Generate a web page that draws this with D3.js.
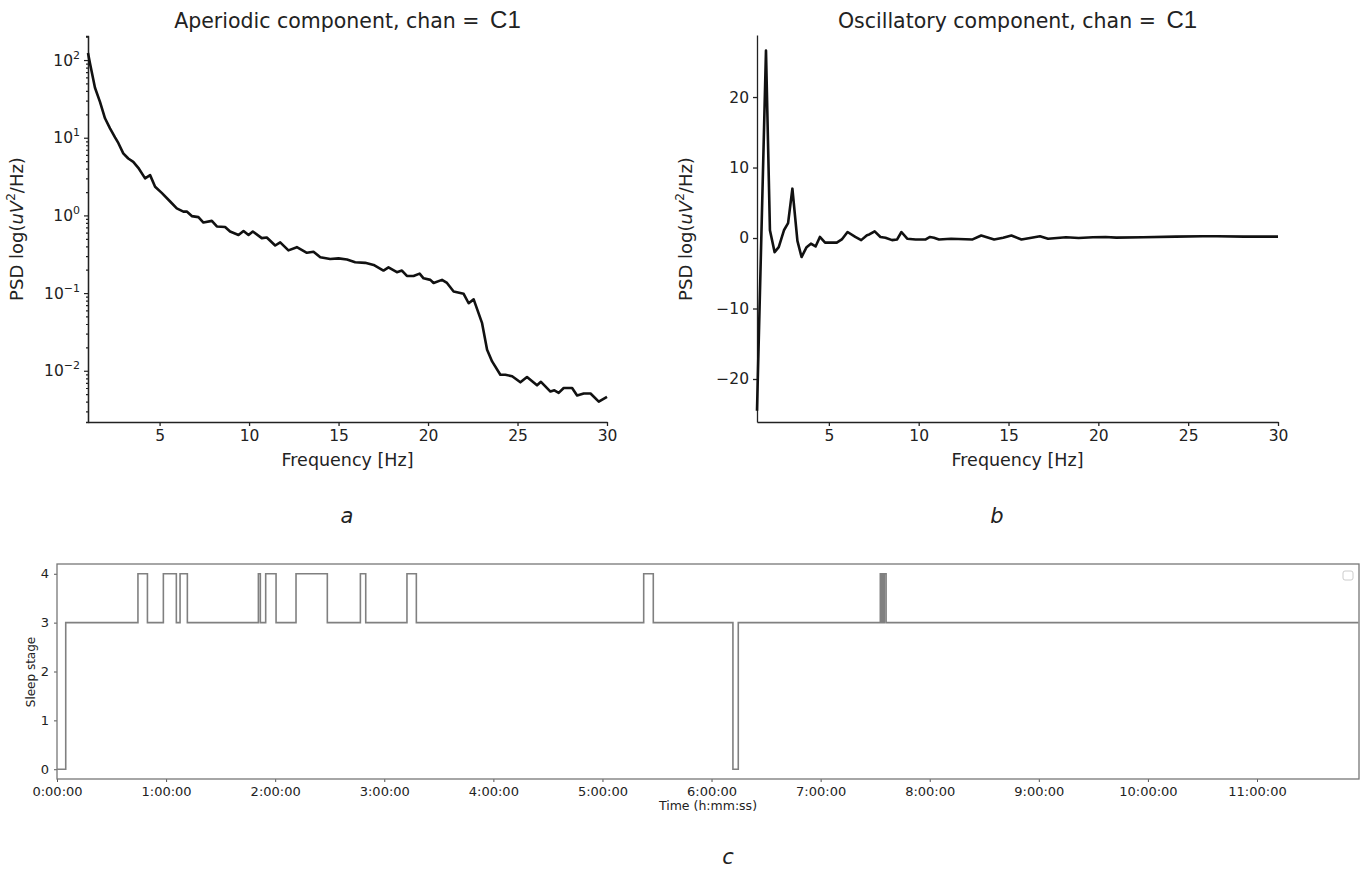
<!DOCTYPE html>
<html>
<head>
<meta charset="utf-8">
<script src="https://cdn.jsdelivr.net/npm/d3@7"></script>
<style>
body { margin: 0; background: #fff; }
text { font-family: "DejaVu Sans", sans-serif; fill: #222; }
</style>
</head>
<body>
<script>
// panel a : aperiodic component (uV^2/Hz)
var apFreq = [1.0, 1.11, 1.39, 1.67, 1.95, 2.23, 2.51, 2.70, 2.97, 3.25, 3.53, 3.81, 4.19, 4.47, 4.75,
    5.12, 5.59, 5.96, 6.33, 6.52, 6.80, 7.17, 7.45, 7.92, 8.20, 8.66, 8.94, 9.41, 9.69, 9.97,
    10.21, 10.71, 10.99, 11.46, 11.74, 12.20, 12.67, 13.23, 13.60, 13.98, 14.53, 15.00, 15.47, 15.93,
    16.49, 16.96, 17.51, 17.79, 18.26, 18.54, 18.82, 19.19, 19.53, 19.75, 20.13, 20.31, 20.78, 21.06,
    21.43, 21.99, 22.27, 22.55, 23.02, 23.30, 23.58, 24.04, 24.32, 24.70, 25.16, 25.53, 26.09, 26.31,
    26.84, 27.06, 27.30, 27.58, 28.05, 28.33, 28.70, 29.08, 29.54, 30.0];
var apPower = [123, 91, 44, 29, 17.8, 13.2, 10.1, 8.5, 6.3, 5.4, 4.9, 4.1, 3.0, 3.3, 2.34,
    1.95, 1.51, 1.23, 1.12, 1.12, 0.98, 0.95, 0.81, 0.85, 0.72, 0.71, 0.62, 0.56, 0.63, 0.56,
    0.62, 0.51, 0.52, 0.41, 0.45, 0.355, 0.39, 0.33, 0.34, 0.29, 0.275, 0.28, 0.27, 0.25,
    0.245, 0.23, 0.195, 0.214, 0.186, 0.195, 0.166, 0.166, 0.178, 0.155, 0.148, 0.135, 0.148, 0.135,
    0.105, 0.098, 0.074, 0.083, 0.041, 0.0186, 0.0132, 0.0089, 0.0089, 0.0085, 0.0071, 0.0083, 0.0065, 0.0072,
    0.0054, 0.0056, 0.0052, 0.0060, 0.0060, 0.0048, 0.0051, 0.0051, 0.0040, 0.0046];

// panel b : oscillatory component
var oscFreq = [1.0, 1.5, 1.72, 1.98, 2.21, 2.5, 2.73, 2.97, 3.25, 3.48, 3.76, 4.0, 4.26, 4.5, 4.79,
    5.44, 5.72, 6.04, 6.47, 6.8, 7.12, 7.25, 7.55, 7.87, 8.15, 8.52, 8.8, 9.04, 9.36, 9.83,
    10.39, 10.63, 10.85, 11.13, 11.8, 13.0, 13.48, 14.2, 14.7, 15.16, 15.72, 16.28, 16.75, 17.2,
    18.2, 18.9, 19.7, 20.4, 21.0, 22.5, 24.3, 25.8, 26.6, 28.1, 30.0];
var oscPower = [-24.5, 26.6, 1.1, -2.0, -1.3, 1.1, 2.1, 7.0, -0.4, -2.7, -1.3, -0.8, -1.2, 0.15, -0.65,
    -0.65, -0.2, 0.85, 0.15, -0.3, 0.4, 0.5, 0.95, 0.15, 0.05, -0.3, -0.2, 0.85, -0.1, -0.2,
    -0.2, 0.15, 0.05, -0.2, -0.1, -0.2, 0.35, -0.2, 0.05, 0.35, -0.2, 0.05, 0.25, -0.1,
    0.1, 0, 0.1, 0.15, 0.05, 0.1, 0.2, 0.25, 0.25, 0.2, 0.2];

// panel c : hypnogram (time in hours, stage)
var hypTime = [0, 0.08, 0.742, 0.829, 0.975, 1.094, 1.128, 1.195, 1.846, 1.864, 1.913, 2.008, 2.191, 2.478,
    2.781, 2.830, 3.208, 3.294, 5.378, 5.466, 6.196, 6.245, 7.547, 7.556, 7.565, 7.575, 7.584, 7.600, 11.93];
var hypStage = [0, 3, 4, 3, 4, 3, 4, 3, 4, 3, 4, 3, 4, 3,
    4, 3, 4, 3, 4, 3, 0, 3, 4, 3, 4, 3, 4, 3, 3];

var freqTicks = [5, 10, 15, 20, 25, 30];
var logTicks = [1e-2, 1e-1, 1e0, 1e1, 1e2];
var oscTicks = [-20, -10, 0, 10, 20];
var stageTicks = [0, 1, 2, 3, 4];
var hourTicks = [0, 1, 2, 3, 4, 5, 6, 7, 8, 9, 10, 11];

var svg = d3.select("body")
    .append("svg")
    .attr("width", 1368)
    .attr("height", 871);

//PSD panels
function drawPsd(left, right, yScale, title, xs, ys) {
    var x = d3.scaleLinear().domain([1, 30]).range([left, right]);
    var g = svg.append("g");
    var xAxis = g.append("g")
        .attr("transform", "translate(0," + 422 + ")")
        .call(d3.axisBottom(x).tickValues(freqTicks).tickSize(4).tickSizeOuter(0).tickPadding(4));
    xAxis.selectAll("text").attr("font-size", "15.5px").attr("font-family", "DejaVu Sans").attr("fill", "#222");
    var yAxis = g.append("g")
        .attr("transform", "translate(" + left + ",0)");
    g.selectAll(".domain, .tick line").attr("stroke", "#222").attr("stroke-width", 1.3);

    var line = d3.line()
        .x(function (d) { return x(d[0]); })
        .y(function (d) { return yScale(d[1]); });
    g.append("path")
        .attr("class", "psd")
        .datum(d3.zip(xs, ys))
        .attr("d", line)
        .attr("fill", "none")
        .attr("stroke", "#111")
        .attr("stroke-width", 2.6)
        .attr("stroke-linejoin", "round");

    var t = g.append("text")
        .attr("x", (left + right) / 2)
        .attr("y", 28)
        .attr("text-anchor", "middle")
        .attr("font-size", "20.5px");
    t.append("tspan").text(title + ", chan = ");
    t.append("tspan").attr("font-family", "Liberation Sans").attr("font-size", "24px").attr("dx", 4).text("C1");

    g.append("text")
        .attr("x", (left + right) / 2)
        .attr("y", 466)
        .attr("text-anchor", "middle")
        .attr("font-size", "17.5px")
        .text("Frequency [Hz]");

    var yl = g.append("text")
        .attr("transform", "translate(" + (left - 65) + ",229) rotate(-90)")
        .attr("text-anchor", "middle")
        .attr("font-size", "18px");
    yl.append("tspan").text("PSD log(");
    yl.append("tspan").attr("font-style", "italic").text("uV");
    yl.append("tspan").attr("font-size", "12px").attr("dy", -8).text("2");
    yl.append("tspan").attr("dy", 8).text("/Hz)");
    return { g: g, yAxis: yAxis };
}

//a: log axis
var yA = d3.scaleLog().domain([0.00219, 204]).range([422, 36]);
var pa = drawPsd(88, 607, yA, "Aperiodic component", apFreq, apPower);
var minorTicks = [];
[-3, -2, -1, 0, 1, 2].forEach(function (e) {
    for (var k = 2; k <= 9; k++) {
        var v = k * Math.pow(10, e);
        if (v > 0.00219 && v < 204) minorTicks.push(v);
    }
});
pa.yAxis.append("g").call(d3.axisLeft(yA).tickValues(minorTicks).tickSize(2).tickFormat(""));
pa.yAxis.append("g").call(d3.axisLeft(yA).tickValues(logTicks).tickSize(4).tickSizeOuter(0).tickPadding(4)
    .tickFormat(""));
pa.yAxis.selectAll(".tick").filter(function (d) { return logTicks.indexOf(d) >= 0; })
    .append("text")
    .attr("x", -8)
    .attr("dy", "0.32em")
    .attr("text-anchor", "end")
    .attr("font-size", "15.5px")
    .each(function (d) {
        var e = Math.round(Math.log10(d));
        var s = d3.select(this);
        s.append("tspan").text("10");
        s.append("tspan").attr("font-size", "11px").attr("dy", -7).text(e < 0 ? "\u2212" + (-e) : e);
    });
pa.yAxis.selectAll(".domain, .tick line").attr("stroke", "#222").attr("stroke-width", 1.2);
pa.yAxis.selectAll(".domain").attr("stroke-width", 1.3);
pa.g.select(".psd").raise();

//b: linear axis
var yB = d3.scaleLinear().domain([-26.1, 28.8]).range([422, 35]);
var pb = drawPsd(757, 1278, yB, "Oscillatory component", oscFreq, oscPower);
pb.yAxis.call(d3.axisLeft(yB).tickValues(oscTicks).tickSize(4).tickSizeOuter(0).tickPadding(4)
    .tickFormat(function (d) { return d < 0 ? "\u2212" + (-d) : d; }));
pb.yAxis.selectAll("text").attr("font-size", "15.5px").attr("font-family", "DejaVu Sans").attr("fill", "#222");
pb.yAxis.selectAll(".domain, .tick line").attr("stroke", "#222").attr("stroke-width", 1.3);
pb.g.select(".psd").raise();

//c: hypnogram
var hx = d3.scaleLinear().domain([0, 11.935]).range([57, 1359]);
var hy = d3.scaleLinear().domain([-0.2, 4.2]).range([779, 564]);
var gc = svg.append("g").attr("font-family", "Liberation Sans");
gc.append("g")
    .attr("transform", "translate(0,779)")
    .call(d3.axisBottom(hx).tickValues(hourTicks).tickSize(3).tickSizeOuter(0).tickPadding(5)
        .tickFormat(function (d) { return d + ":00:00"; }));
gc.append("g")
    .attr("transform", "translate(57,0)")
    .call(d3.axisLeft(hy).tickValues(stageTicks).tickSize(3).tickSizeOuter(0).tickPadding(5)
        .tickFormat(d3.format("d")));
gc.selectAll(".tick text").attr("font-size", "13px").attr("font-family", "Liberation Sans").attr("fill", "#222");
gc.selectAll(".tick line").attr("stroke", "#555");
gc.selectAll(".domain").remove();
gc.append("rect")
    .attr("x", 57).attr("y", 564)
    .attr("width", 1359 - 57).attr("height", 779 - 564)
    .attr("fill", "none")
    .attr("stroke", "#777")
    .attr("stroke-width", 1.3);
gc.append("path")
    .datum(d3.zip(hypTime, hypStage))
    .attr("d", d3.line().curve(d3.curveStepAfter)
        .x(function (d) { return hx(d[0]); })
        .y(function (d) { return hy(d[1]); }))
    .attr("fill", "none")
    .attr("stroke", "#808080")
    .attr("stroke-width", 1.6);
// empty legend box
gc.append("rect")
    .attr("x", 1343).attr("y", 571)
    .attr("width", 10).attr("height", 9)
    .attr("rx", 2)
    .attr("fill", "#fff")
    .attr("stroke", "#ccc");
gc.append("text")
    .attr("x", 708).attr("y", 810)
    .attr("text-anchor", "middle")
    .attr("font-family", "Liberation Sans")
    .attr("font-size", "12.5px")
    .text("Time (h:mm:ss)");
gc.append("text")
    .attr("transform", "translate(35,672) rotate(-90)")
    .attr("text-anchor", "middle")
    .attr("font-family", "Liberation Sans")
    .attr("font-size", "12px")
    .text("Sleep stage");

//panel letters
[["a", 347, 523], ["b", 997, 523], ["c", 728, 864]].forEach(function (p) {
    svg.append("text")
        .attr("x", p[1]).attr("y", p[2])
        .attr("text-anchor", "middle")
        .attr("font-family", "Open Sans")
        .attr("font-style", "italic")
        .attr("font-size", "21px")
        .attr("fill", "#111")
        .text(p[0]);
});
</script>
</body>
</html>
